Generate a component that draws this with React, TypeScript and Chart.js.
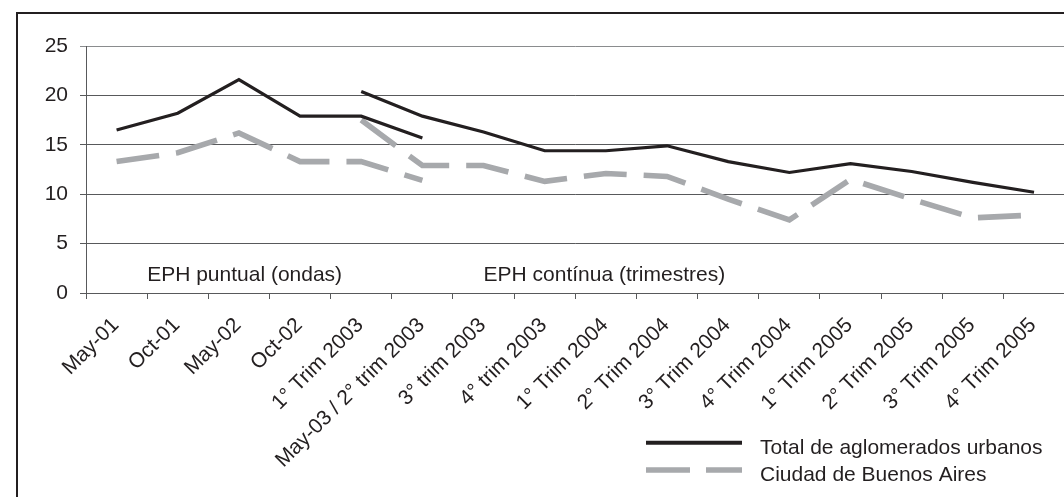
import { useEffect, useRef } from "react";
import { Chart, registerables } from "chart.js";

Chart.register(...registerables);

// Survey periods on the horizontal axis
const categories = [
  "May-01",
  "Oct-01",
  "May-02",
  "Oct-02",
  "1° Trim 2003",
  "May-03 / 2° trim 2003",
  "3° trim 2003",
  "4° trim 2003",
  "1° Trim 2004",
  "2° Trim 2004",
  "3° Trim 2004",
  "4° Trim 2004",
  "1° Trim 2005",
  "2° Trim 2005",
  "3° Trim 2005",
  "4° Trim 2005",
];

// Total de aglomerados urbanos — EPH puntual (ondas) and EPH continua (trimestres)
const totalPuntual = [16.5, 18.2, 21.6, 17.9, 17.9, 15.7, null, null, null, null, null, null, null, null, null, null];
const totalContinua = [null, null, null, null, 20.4, 17.9, 16.3, 14.4, 14.4, 14.9, 13.3, 12.2, 13.1, 12.3, 11.2, 10.2];

// Ciudad de Buenos Aires — same two survey methods
const cabaPuntual = [13.3, 14.2, 16.2, 13.3, 13.3, 11.4, null, null, null, null, null, null, null, null, null, null];
const cabaContinua = [null, null, null, null, 17.5, 12.9, 12.9, 11.3, 12.1, 11.8, 9.5, 7.4, 11.5, 9.5, 7.6, 7.9];

const yTicks = [0, 5, 10, 15, 20, 25];

const seriesNames = ["Total de aglomerados urbanos", "Ciudad de Buenos Aires"];
const methodNotes = ["EPH puntual (ondas)", "EPH contínua (trimestres)"];

const FONT = "'Liberation Sans', Arial, Helvetica, sans-serif";
const FONT_SIZE = 21;
const INK = "#231f20";
const GRID = "#58595b";
const GREY = "#a7a9ac";
const BLACK_W = 3.2;
const GREY_W = 5.6;
const GREY_DASH = [43, 17];

const CANVAS_W = 1084;
const CANVAS_H = 497;

// Method captions placed in data coordinates (category index, value)
const notePlugin = {
  id: "methodNotes",
  afterDatasetsDraw(chart: any) {
    const { ctx, scales } = chart;
    const x = scales.x;
    const y = scales.y;
    ctx.save();
    ctx.font = `${FONT_SIZE}px ${FONT}`;
    ctx.fillStyle = INK;
    ctx.textAlign = "left";
    ctx.textBaseline = "middle";
    const yy = y.getPixelForValue(2) + 1.5;
    ctx.fillText(methodNotes[0], x.getPixelForValue(0.5), yy);
    ctx.fillText(methodNotes[1], x.getPixelForValue(6), yy);
    ctx.restore();
  },
};

// Two-entry key in the lower right corner
const keyPlugin = {
  id: "seriesKey",
  afterDraw(chart: any) {
    const { ctx } = chart;
    const x0 = 646;
    const x1 = 742;
    const tx = 760;
    const rows = [
      { y: 442.7, baseline: 453.5, color: INK, width: 4, dash: [] as number[] },
      { y: 470, baseline: 481, color: GREY, width: 5.4, dash: [44, 16] },
    ];
    ctx.save();
    rows.forEach((r, i) => {
      ctx.beginPath();
      ctx.setLineDash(r.dash);
      ctx.lineCap = "butt";
      ctx.strokeStyle = r.color;
      ctx.lineWidth = r.width;
      ctx.moveTo(x0, r.y);
      ctx.lineTo(x1, r.y);
      ctx.stroke();
      ctx.setLineDash([]);
      ctx.font = `${FONT_SIZE}px ${FONT}`;
      ctx.fillStyle = INK;
      ctx.textAlign = "left";
      ctx.textBaseline = "alphabetic";
      ctx.fillText(seriesNames[i], tx, r.baseline);
    });
    ctx.restore();
  },
};

function line(label: string, data: (number | null)[], color: string, width: number, dash: number[]) {
  return {
    label,
    data,
    borderColor: color,
    backgroundColor: color,
    borderWidth: width,
    borderDash: dash,
    borderCapStyle: "butt" as const,
    borderJoinStyle: "miter" as const,
    pointRadius: 0,
    pointHoverRadius: 0,
    tension: 0,
    spanGaps: false,
    fill: false,
  };
}

export default function App() {
  const canvasRef = useRef<HTMLCanvasElement | null>(null);

  useEffect(() => {
    const canvas = canvasRef.current;
    if (!canvas) return;
    const chart = new Chart(canvas, {
      type: "line",
      data: {
        labels: categories,
        datasets: [
          line(seriesNames[0], totalPuntual, INK, BLACK_W, []),
          line(seriesNames[0], totalContinua, INK, BLACK_W, []),
          line(seriesNames[1], cabaPuntual, GREY, GREY_W, GREY_DASH),
          line(seriesNames[1], cabaContinua, GREY, GREY_W, GREY_DASH),
        ],
      },
      options: {
        responsive: false,
        animation: false,
        devicePixelRatio: 1,
        layout: { padding: { left: 0, top: 46, right: CANVAS_W - 1064.6, bottom: 0 } },
        plugins: {
          legend: { display: false },
          title: { display: false },
          tooltip: { enabled: false },
        },
        scales: {
          x: {
            type: "category",
            offset: true,
            afterFit: (scale: any) => {
              scale.height = 204;
            },
            grid: {
              offset: true,
              drawOnChartArea: false,
              drawTicks: true,
              tickLength: 6,
              color: GRID,
              lineWidth: 1,
            },
            border: { display: true, color: GRID, width: 1 },
            ticks: {
              autoSkip: false,
              maxRotation: 45,
              minRotation: 45,
              padding: 14,
              labelOffset: -1,
              color: INK,
              font: { family: FONT, size: FONT_SIZE },
            },
          },
          y: {
            min: 0,
            max: 25,
            afterFit: (scale: any) => {
              scale.width = 86;
            },
            afterBuildTicks: (scale: any) => {
              scale.ticks = yTicks.map((v) => ({ value: v }));
            },
            grid: {
              color: (c: any) => (c.tick && c.tick.value === 25 ? "#8a8c8e" : GRID),
              lineWidth: 1,
              drawTicks: true,
              tickLength: 6,
            },
            border: { display: true, color: GRID, width: 1 },
            ticks: {
              padding: 12,
              color: INK,
              font: { family: FONT, size: FONT_SIZE },
            },
          },
        },
      },
      plugins: [notePlugin, keyPlugin],
    });
    return () => chart.destroy();
  }, []);

  return (
    <div
      style={{
        position: "absolute",
        left: 0,
        top: 0,
        width: 1064,
        height: 497,
        overflow: "hidden",
        background: "#ffffff",
      }}
    >
      <div
        style={{
          position: "absolute",
          left: 16,
          top: 12,
          width: 1100,
          height: 540,
          border: `2px solid ${INK}`,
          boxSizing: "border-box",
        }}
      />
      <canvas
        ref={canvasRef}
        width={CANVAS_W}
        height={CANVAS_H}
        style={{ position: "absolute", left: 0, top: 0, width: CANVAS_W, height: CANVAS_H }}
      />
    </div>
  );
}
